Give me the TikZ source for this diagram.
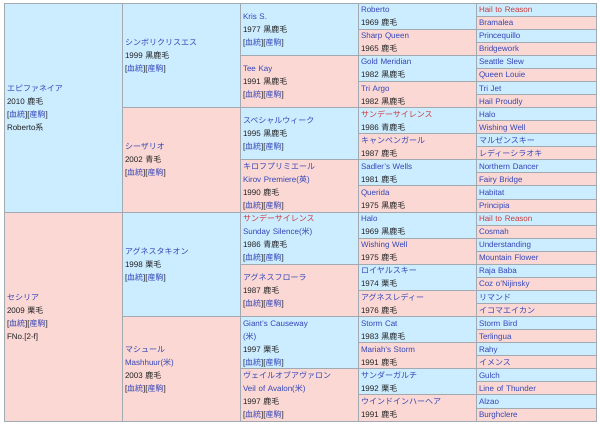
\documentclass[tikz,border=0pt]{standalone}
\usepackage{fontspec}
\setmainfont{Liberation Sans}
\newfontfamily\jpfont{Noto Sans CJK JP}
\definecolor{cblue}{HTML}{CCECFF}
\definecolor{cpink}{HTML}{FBD8D4}
\definecolor{bordc}{HTML}{A2A9B1}
\definecolor{linkc}{HTML}{3346B8}
\definecolor{redc}{HTML}{CC3B3B}
\definecolor{textc}{HTML}{202122}
\newcommand\JP[1]{{\jpfont #1}}
\newcommand\lk[1]{\textcolor{linkc}{#1}}
\newcommand\rd[1]{\textcolor{redc}{#1}}
\newcommand\ketto{[\JP{\lk{血統}}][\JP{\lk{産駒}}]}
\newcommand\cstrut{\rule[-3.4pt]{0pt}{13pt}}
\begin{document}
\begin{tikzpicture}[x=1pt,y=-1pt,
  cell/.style={draw=bordc, line width=0.8pt, anchor=north west, inner xsep=3pt, inner ysep=0pt,
    outer sep=0pt, align=left, font=\fontsize{8}{13}\selectfont, text=textc,
    execute at begin node=\cstrut, execute at end node=\cstrut},
  mb/.style={cell, fill=cblue},
  fp/.style={cell, fill=cpink},
  g1/.style={text width=112pt, minimum height=209pt},
  g2/.style={text width=112pt, minimum height=104.5pt},
  g3/.style={text width=112pt, minimum height=52.25pt},
  g4/.style={text width=112pt, minimum height=26.125pt},
  g5/.style={text width=114pt, minimum height=13.0625pt}]
\useasboundingbox[fill=white] (0,0) rectangle (600,425);

% generation 1
\node[mb,g1] (a1) at (4,3) {\JP{\lk{エピファネイア}}\\2010 \JP{鹿毛}\\\ketto\\Roberto\JP{系}};
\node[fp,g1] (a2) at (4,212) {\JP{\lk{セシリア}}\\2009 \JP{栗毛}\\\ketto\\FNo.[2-f]};

% generation 2
\node[mb,g2] (b1) at (122,3) {\JP{\lk{シンボリクリスエス}}\\1999 \JP{黒鹿毛}\\\ketto};
\node[fp,g2] (b2) at (122,107.5) {\JP{\lk{シーザリオ}}\\2002 \JP{青毛}\\\ketto};
\node[mb,g2] (b3) at (122,212) {\JP{\lk{アグネスタキオン}}\\1998 \JP{栗毛}\\\ketto};
\node[fp,g2] (b4) at (122,316.5) {\JP{\lk{マシュール}}\\\lk{Mashhuur(\JP{米})}\\2003 \JP{鹿毛}\\\ketto};

% generation 3
\node[mb,g3] (c1) at (240,3) {\lk{Kris S.}\\1977 \JP{黒鹿毛}\\\ketto};
\node[fp,g3] (c2) at (240,55.25) {\lk{Tee Kay}\\1991 \JP{黒鹿毛}\\\ketto};
\node[mb,g3] (c3) at (240,107.5) {\JP{\lk{スペシャルウィーク}}\\1995 \JP{黒鹿毛}\\\ketto};
\node[fp,g3] (c4) at (240,159.75) {\JP{\lk{キロフプリミエール}}\\\lk{Kirov Premiere(\JP{英})}\\1990 \JP{鹿毛}\\\ketto};
\node[mb,g3] (c5) at (240,212) {\JP{\rd{サンデーサイレンス}}\\\lk{Sunday Silence(\JP{米})}\\1986 \JP{青鹿毛}\\\ketto};
\node[fp,g3] (c6) at (240,264.25) {\JP{\lk{アグネスフローラ}}\\1987 \JP{鹿毛}\\\ketto};
\node[mb,g3] (c7) at (240,316.5) {\lk{Giant's Causeway}\\\lk{(\JP{米})}\\1997 \JP{栗毛}\\\ketto};
\node[fp,g3] (c8) at (240,368.75) {\JP{\lk{ヴェイルオブアヴァロン}}\\\lk{Veil of Avalon(\JP{米})}\\1997 \JP{鹿毛}\\\ketto};

% generation 4
\node[mb,g4] (d1) at (358,3) {\lk{Roberto}\\1969 \JP{鹿毛}};
\node[fp,g4] (d2) at (358,29.125) {\lk{Sharp Queen}\\1965 \JP{鹿毛}};
\node[mb,g4] (d3) at (358,55.25) {\lk{Gold Meridian}\\1982 \JP{黒鹿毛}};
\node[fp,g4] (d4) at (358,81.375) {\lk{Tri Argo}\\1982 \JP{黒鹿毛}};
\node[mb,g4] (d5) at (358,107.5) {\JP{\rd{サンデーサイレンス}}\\1986 \JP{青鹿毛}};
\node[fp,g4] (d6) at (358,133.625) {\JP{\lk{キャンペンガール}}\\1987 \JP{鹿毛}};
\node[mb,g4] (d7) at (358,159.75) {\lk{Sadler's Wells}\\1981 \JP{鹿毛}};
\node[fp,g4] (d8) at (358,185.875) {\lk{Querida}\\1975 \JP{黒鹿毛}};
\node[mb,g4] (d9) at (358,212) {\lk{Halo}\\1969 \JP{黒鹿毛}};
\node[fp,g4] (d10) at (358,238.125) {\lk{Wishing Well}\\1975 \JP{鹿毛}};
\node[mb,g4] (d11) at (358,264.25) {\JP{\lk{ロイヤルスキー}}\\1974 \JP{栗毛}};
\node[fp,g4] (d12) at (358,290.375) {\JP{\lk{アグネスレディー}}\\1976 \JP{鹿毛}};
\node[mb,g4] (d13) at (358,316.5) {\lk{Storm Cat}\\1983 \JP{黒鹿毛}};
\node[fp,g4] (d14) at (358,342.625) {\lk{Mariah's Storm}\\1991 \JP{鹿毛}};
\node[mb,g4] (d15) at (358,368.75) {\JP{\lk{サンダーガルチ}}\\1992 \JP{栗毛}};
\node[fp,g4] (d16) at (358,394.875) {\JP{\lk{ウインドインハーヘア}}\\1991 \JP{鹿毛}};

% generation 5
\foreach \t [count=\i from 0] in {
  {\rd{Hail to Reason}}, Bramalea, Princequillo, Bridgework,
  Seattle Slew, Queen Louie, Tri Jet, Hail Proudly,
  Halo, Wishing Well, {\JP{マルゼンスキー}}, {\JP{レディーシラオキ}},
  Northern Dancer, Fairy Bridge, Habitat, Principia,
  {\rd{Hail to Reason}}, Cosmah, Understanding, Mountain Flower,
  Raja Baba, Coz o'Nijinsky, {\JP{リマンド}}, {\JP{イコマエイカン}},
  Storm Bird, Terlingua, Rahy, {\JP{イメンス}},
  Gulch, Line of Thunder, Alzao, Burghclere} {
  \ifodd\i\def\cf{cpink}\else\def\cf{cblue}\fi
  \node[cell,g5,fill=\cf] (e\i) at (476,{3+13.0625*\i}) {\lk{\t}};
}
\end{tikzpicture}
\end{document}
